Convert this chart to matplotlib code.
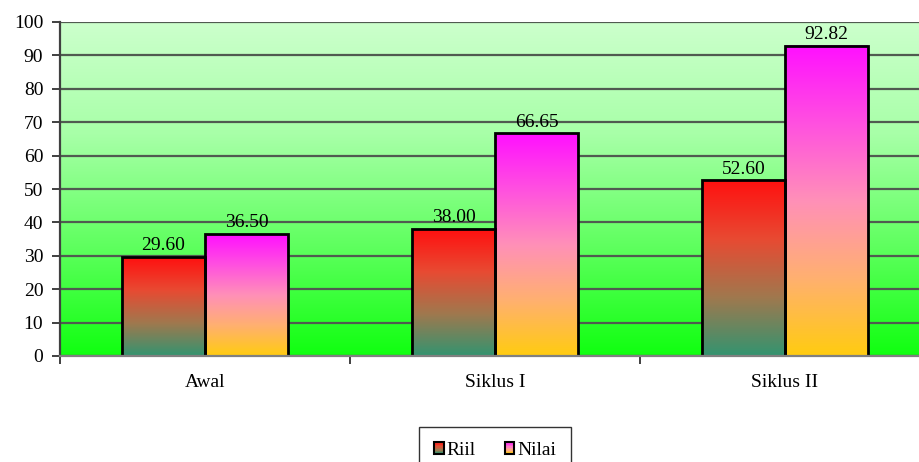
import numpy as np
import matplotlib
matplotlib.use("Agg")
import matplotlib.pyplot as plt
from matplotlib.colors import LinearSegmentedColormap
from matplotlib.patches import Rectangle
from matplotlib.legend_handler import HandlerBase

categories = ["Awal", "Siklus I", "Siklus II"]
series_names = ["Riil", "Nilai"]
riil = [29.60, 38.00, 52.60]
nilai = [36.50, 66.65, 92.82]
y_ticks = list(range(0, 101, 10))

plt.rcParams["font.family"] = ["Liberation Serif", "DejaVu Serif"]

# vertical gradients (bottom -> top)
cmap_riil = LinearSegmentedColormap.from_list(
    "riil", ["#339470", "#a0784e", "#e84a32", "#ff1010"])
cmap_nilai = LinearSegmentedColormap.from_list(
    "nilai", ["#ffcc10", "#ffb070", "#ff90b8", "#ff50e0", "#ff10ff"])
cmap_bg = LinearSegmentedColormap.from_list(
    "bg", ["#10ff10", "#60ff60", "#a8ffa8", "#ccffcc"])

fig = plt.figure(figsize=(9.19, 4.62), dpi=100)
ax = fig.add_axes([60 / 919, 106 / 462, 870 / 919, 334 / 462])

ax.set_xlim(-0.5, 2.5)
ax.set_ylim(0, 100)

# plot area background gradient
grad = np.linspace(0, 1, 256).reshape(-1, 1)
ax.imshow(grad, cmap=cmap_bg, origin="lower", aspect="auto",
          extent=(-0.5, 2.5, 0, 100), zorder=0)

ax.set_yticks(y_ticks)
ax.yaxis.grid(True, color="#505a50", linewidth=1.6, zorder=1)
ax.set_axisbelow(False)

x = np.arange(len(categories))
w = 0.286


def gradient_bars(xpos, vals, cmap):
    bars = ax.bar(xpos, vals, width=w, facecolor="none", edgecolor="black",
                  linewidth=2.0, zorder=4)
    for b in bars:
        x0, h, bw = b.get_x(), b.get_height(), b.get_width()
        ax.imshow(grad, cmap=cmap, origin="lower", aspect="auto",
                  extent=(x0, x0 + bw, 0, h), zorder=3)
    return bars


bars_r = gradient_bars(x - w / 2, riil, cmap_riil)
bars_n = gradient_bars(x + w / 2, nilai, cmap_nilai)
ax.set_xlim(-0.5, 2.5)
ax.set_ylim(0, 100)

for bars, vals in ((bars_r, riil), (bars_n, nilai)):
    for b, v in zip(bars, vals):
        ax.text(b.get_x() + b.get_width() / 2, v + 0.8, f"{v:.2f}",
                ha="center", va="bottom", fontsize=14, color="black", zorder=5)

# axes styling
for s in ("top", "right"):
    ax.spines[s].set_visible(False)
ax.spines["left"].set_color("#404040")
ax.spines["left"].set_linewidth(1.6)
ax.spines["bottom"].set_color("#808080")
ax.spines["bottom"].set_linewidth(1.6)
ax.spines["left"].set_zorder(6)
ax.spines["bottom"].set_zorder(6)

ax.tick_params(axis="y", direction="out", length=6, width=1.4,
               color="#404040", labelsize=14, pad=6)
ax.set_xticks(x)
ax.set_xticklabels(categories)
ax.tick_params(axis="x", which="major", length=0, labelsize=14, pad=13)
ax.set_xticks([-0.5, 0.5, 1.5, 2.5], minor=True)
ax.tick_params(axis="x", which="minor", direction="out", length=6,
               width=1.4, color="#404040")


class GradientHandler(HandlerBase):
    def __init__(self, cmap):
        super().__init__()
        self.cmap = cmap

    def create_artists(self, legend, orig_handle, xdescent, ydescent,
                       width, height, fontsize, trans):
        n = 8
        artists = []
        for i in range(n):
            artists.append(Rectangle(
                (-xdescent, -ydescent + height * i / n), width, height / n,
                facecolor=self.cmap((i + 0.5) / n), edgecolor="none",
                transform=trans))
        artists.append(Rectangle((-xdescent, -ydescent), width, height,
                                 facecolor="none", edgecolor="black",
                                 linewidth=1.5, transform=trans))
        return artists


h_r = Rectangle((0, 0), 1, 1)
h_n = Rectangle((0, 0), 1, 1)
leg = fig.legend([h_r, h_n], series_names, loc="upper center",
                 bbox_to_anchor=(495 / 919, 1 - 427 / 462), ncol=2,
                 borderaxespad=0, fontsize=14, frameon=True, fancybox=False,
                 edgecolor="black", handlelength=0.5, handleheight=0.55,
                 handletextpad=0.15, columnspacing=1.5, borderpad=0.75,
                 handler_map={h_r: GradientHandler(cmap_riil),
                              h_n: GradientHandler(cmap_nilai)})
leg.get_frame().set_linewidth(1.0)

fig.savefig("out.png", dpi=100, facecolor="white")
